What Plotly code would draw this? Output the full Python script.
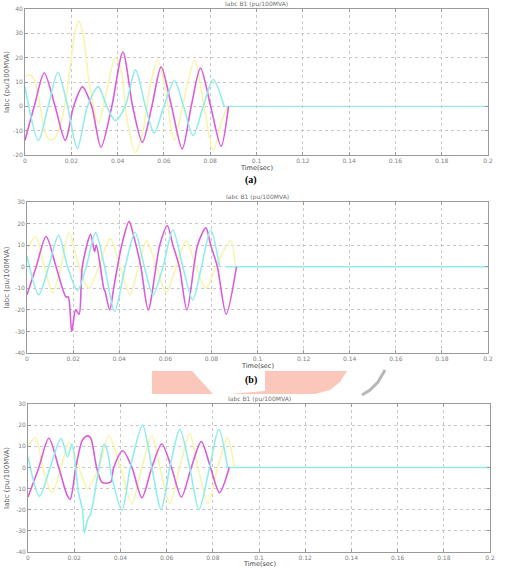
import plotly.graph_objects as go

W, H = 505, 571

# ---------------- data ----------------
x_ticks = [0, 0.02, 0.04, 0.06, 0.08, 0.1, 0.12, 0.14, 0.16, 0.18, 0.2]
x_tick_text = ["0", "0.02", "0.04", "0.06", "0.08", "0.1", "0.12", "0.14", "0.16", "0.18", "0.2"]
y_ticks_a = [-20, -10, 0, 10, 20, 30, 40]
y_ticks_bc = [-40, -30, -20, -10, 0, 10, 20, 30]

# flat (zero) current after the breaker opens, to the end of the window
tail_t = [0.086, 0.2]
tail_v = [0, 0]

# Panel (a)
a_yel_t = [0, 0.002, 0.004, 0.006, 0.0085, 0.0105, 0.013, 0.016, 0.019, 0.0215, 0.0232, 0.025, 0.028,
           0.0317, 0.035, 0.039, 0.0415, 0.044, 0.0477, 0.051, 0.054, 0.0572, 0.0605, 0.0645, 0.068,
           0.0733, 0.077, 0.0813, 0.085, 0.0875]
a_yel_v = [12, 13, 11, 3, -10, -13.7, -13, -5, 12, 30, 35, 30, 8,
           -7, 5, 20, 15, -5, -19, -10, 8, 19, 8, -14, 0,
           19, 2, -18, -6, 0]
a_cya_t = [0, 0.0058, 0.010, 0.0142, 0.0184, 0.0226, 0.027, 0.0317, 0.0353, 0.039, 0.0433, 0.0477,
           0.052, 0.0558, 0.060, 0.0645, 0.0685, 0.0726, 0.077, 0.0813, 0.086]
a_cya_v = [8, -14, 0, 14, 0, -17.4, 0, 8, 0, -5.8, 0, 15,
           0, -11, 0, 10.5, 0, -12, 0, 11, 0]
a_mag_t = [0, 0.004, 0.0083, 0.013, 0.0174, 0.021, 0.0248, 0.0288, 0.0328, 0.0375, 0.0423, 0.0465,
           0.0507, 0.0548, 0.0588, 0.0633, 0.0679, 0.0718, 0.0758, 0.0802, 0.0847, 0.0879]
a_mag_v = [-14, 0, 13.7, 0, -14, 0, 8, 0, -16.8, 0, 22.3, 0,
           -14.8, 0, 16.2, 0, -17.5, 0, 15.7, 0, -16.4, 0]

# Panel (b)
b_yel_t = [0, 0.0037, 0.0076, 0.0111, 0.0147, 0.0183, 0.0226, 0.0269, 0.0311, 0.0361, 0.0404, 0.0447,
           0.0483, 0.0519, 0.0561, 0.0604, 0.0647, 0.069, 0.0733, 0.0776, 0.0819, 0.0883, 0.0904]
b_yel_v = [8, 14, 0, -12, 0, 16, 0, -10, 0, 13, 0, -13,
           0, 12, 0, -12, 0, 12, 0, -10, 0, 12, 0]
b_cya_t = [0, 0.0051, 0.0094, 0.0137, 0.0176, 0.0219, 0.0257, 0.0297, 0.0337, 0.038, 0.0426, 0.0469,
           0.0509, 0.0547, 0.059, 0.0633, 0.0676, 0.0719, 0.0757, 0.0797, 0.0835]
b_cya_v = [5, -13, 0, 14.6, 0, -11, 0, 15.7, 0, -20.8, 0, 16,
           0, -13, 0, 17, 0, -15.4, 0, 17, 0]
b_mag_t = [0, 0.004, 0.0083, 0.0126, 0.0169, 0.0179, 0.0194, 0.0211, 0.0226, 0.024, 0.0276, 0.0293,
           0.0301, 0.0333, 0.034, 0.0359, 0.0376, 0.0411, 0.0443, 0.0461, 0.0494, 0.0526, 0.0576,
           0.0609, 0.0633, 0.0661, 0.0694, 0.074, 0.0776, 0.0797, 0.0826, 0.0864, 0.0909]
b_mag_v = [-13, 0, 14, 0, -14, -14, -30, -20, -22, 0, 15, 7,
           10, -10, -12, -20, -10, 10, 21, 15, 0, -20, 10,
           19, 10, 0, -20, 10, 18, 10, 0, -22, 0]

# Panel (c)
c_yel_t = [0, 0.0033, 0.0064, 0.0104, 0.0143, 0.0179, 0.0221, 0.0257, 0.0307, 0.035, 0.04, 0.045,
           0.0493, 0.0536, 0.0571, 0.0614, 0.0657, 0.07, 0.0736, 0.0779, 0.0821, 0.0864, 0.0893]
c_yel_v = [10, 14, 0, -12, 0, 12, 0, -10, 0, 15, 0, -17,
           0, 15, 0, -17, 0, 16, 0, -17, 0, 14, 0]
c_cya_t = [0, 0.005, 0.0096, 0.0143, 0.0171, 0.019, 0.0219, 0.0236, 0.0244, 0.0257, 0.0271, 0.030,
           0.0329, 0.0343, 0.0364, 0.0407, 0.0443, 0.0496, 0.0536, 0.0576, 0.0614, 0.0657, 0.070,
           0.074, 0.0786, 0.0826, 0.0864]
c_cya_v = [5, -13.6, 0, 13.8, 5, 11, -12, -20, -31, -25, -22, -5,
           11, 8, -5, -20.3, 0, 20, 0, -20, 0, 18, 0,
           -20, 0, 18, 0]
c_mag_t = [0, 0.0047, 0.009, 0.0133, 0.0171, 0.0183, 0.0207, 0.0236, 0.0257, 0.0271, 0.0297, 0.0321,
           0.0357, 0.0371, 0.041, 0.045, 0.0493, 0.0536, 0.0579, 0.0621, 0.0664, 0.0707, 0.075,
           0.079, 0.0829, 0.0871]
c_mag_v = [-14, 0, 13.8, 0, -13.6, -15, 0, 13, 14.9, 14, 0, -7.1,
           -7, 0, 7.9, 0, -14.3, 0, 11.1, 0, -14, 0, 12.2,
           0, -11.9, 0]

panels = [
    dict(yel=(a_yel_t, a_yel_v), cya=(a_cya_t, a_cya_v), mag=(a_mag_t, a_mag_v),
         yr=[-20, 40], yt=y_ticks_a, box=(25, 488, 9, 155), label="(a)", label_y=172, time_dy=13),
    dict(yel=(b_yel_t, b_yel_v), cya=(b_cya_t, b_cya_v), mag=(b_mag_t, b_mag_v),
         yr=[-40, 30], yt=y_ticks_bc, box=(27, 488, 202, 353), label="(b)", label_y=372, time_dy=13),
    dict(yel=(c_yel_t, c_yel_v), cya=(c_cya_t, c_cya_v), mag=(c_mag_t, c_mag_v),
         yr=[-40, 30], yt=y_ticks_bc, box=(28, 490, 404, 552), label="(c)", label_y=567, time_dy=12),
]

YEL = "#f7f5ad"
CYA = "#92ecec"
MAG = "#db5cdb"


def px(x):
    return x / W


def py(y):
    return 1 - y / H


fig = go.Figure()
annotations = []
layout = {}

for i, p in enumerate(panels):
    n = "" if i == 0 else str(i + 1)
    xa, ya = "x" + n, "y" + n
    x0, x1, y0, y1 = p["box"]
    fig.add_trace(go.Scatter(x=tail_t, y=tail_v, mode="lines", xaxis=xa, yaxis=ya,
                             line=dict(color=CYA, width=1.4), showlegend=False, hoverinfo="skip"))
    for key, col in (("yel", YEL), ("mag", MAG), ("cya", CYA)):
        t, v = p[key]
        fig.add_trace(go.Scatter(x=t, y=v, mode="lines", xaxis=xa, yaxis=ya,
                                 line=dict(color=col, width=1.6, shape="spline", smoothing=0.8),
                                 showlegend=False, hoverinfo="skip"))
    common = dict(showline=True, linecolor="#9a9a9a", linewidth=1, mirror="ticks",
                  ticks="inside", ticklen=3, tickcolor="#9a9a9a",
                  showgrid=True, gridcolor="#c8c8c8", griddash="dot", gridwidth=1,
                  zeroline=False, tickfont=dict(size=6, color="#808080", family="DejaVu Sans"),
                  automargin=False, fixedrange=True)
    layout["xaxis" + n] = dict(common, domain=[px(x0), px(x1)], anchor=ya, range=[0, 0.2],
                               tickvals=x_ticks, ticktext=x_tick_text)
    layout["yaxis" + n] = dict(common, domain=[py(y1), py(y0)], anchor=xa, range=p["yr"],
                               tickvals=p["yt"], ticktext=[str(v) for v in p["yt"]])
    cx = (x0 + x1) / 2
    annotations.append(dict(text="Iabc B1 (pu/100MVA)", x=px(cx), y=py(y0 - 5), xref="paper", yref="paper",
                            xanchor="center", yanchor="middle", showarrow=False,
                            font=dict(size=6, color="#707070", family="DejaVu Sans")))
    annotations.append(dict(text="Time(sec)", x=px(cx), y=py(y1 + p["time_dy"]), xref="paper", yref="paper",
                            xanchor="center", yanchor="middle", showarrow=False,
                            font=dict(size=6.5, color="#404040", family="DejaVu Sans")))
    annotations.append(dict(text="Iabc (pu/100MVA)", x=px(7), y=py((y0 + y1) / 2), xref="paper", yref="paper",
                            xanchor="center", yanchor="middle", showarrow=False, textangle=-90,
                            font=dict(size=7, color="#606060", family="DejaVu Sans")))
    annotations.append(dict(text="<b>" + p["label"] + "</b>", x=px(251), y=py(p["label_y"]), xref="paper",
                            yref="paper", xanchor="center", yanchor="top", showarrow=False,
                            font=dict(size=10, color="#000000", family="Liberation Serif")))


def path(pts, close=True):
    s = "M " + " L ".join(f"{px(a):.4f},{py(b):.4f}" for a, b in pts)
    return s + (" Z" if close else "")


shapes = [
    dict(type="path", xref="paper", yref="paper", layer="below",
         path=path([(152, 371), (192, 371), (213, 394), (152, 394)]),
         fillcolor="#fbc7bb", line=dict(width=0)),
    dict(type="path", xref="paper", yref="paper", layer="below",
         path=path([(265, 371), (347, 371), (340, 382), (330, 390), (315, 394), (230, 394), (265, 391)]),
         fillcolor="#fbc7bb", line=dict(width=0)),
    dict(type="path", xref="paper", yref="paper", layer="below",
         path=path([(385, 370), (378, 382), (370, 390), (362, 395)], close=False),
         line=dict(color="#b8b8b8", width=3)),
]

fig.update_layout(width=W, height=H, margin=dict(l=0, r=0, t=0, b=0),
                  paper_bgcolor="white", plot_bgcolor="white",
                  annotations=annotations, shapes=shapes, **layout)

fig.write_html("out.html")
